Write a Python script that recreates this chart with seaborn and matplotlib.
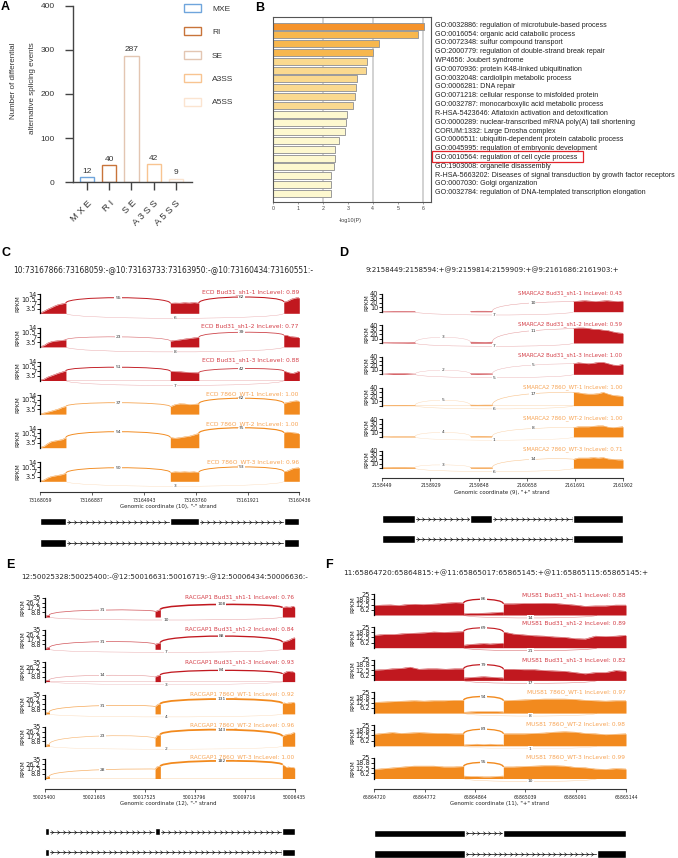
"""
Splicing figure: event counts, enrichment bars and four sashimi panels.
"""

import numpy as np
import matplotlib
matplotlib.use('Agg')
import matplotlib.pyplot as plt
from matplotlib.patches import Patch, PathPatch, Rectangle
from matplotlib.path import Path
from matplotlib.transforms import ScaledTranslation
import seaborn as sns

W, H = 678, 858
RED = '#c1181f'
ORANGE = '#f28a1e'
RED_TEXT = '#d43f48'
ORANGE_TEXT = '#f7a455'
ARIAL = ['Liberation Sans', 'DejaVu Sans']
NARROW = ['Liberation Sans Narrow', 'Liberation Sans', 'DejaVu Sans']
CHEVRON = Path([(-0.5, 0.8), (0.5, 0), (-0.5, -0.8)], [Path.MOVETO, Path.LINETO, Path.LINETO])

# Panel A
event_types = ['MXE', 'RI', 'SE', 'A3SS', 'A5SS']
event_ticks = ['M X E', 'R I', 'S E', 'A 3 S S', 'A 5 S S']
event_counts = [12, 40, 287, 42, 9]
event_colors = ['#6fa5dc', '#c8743a', '#e3c6b2', '#f8c491', '#fbe4d0']

# Panel B
terms = [
    'GO:0032886: regulation of microtubule-based process',
    'GO:0016054: organic acid catabolic process',
    'GO:0072348: sulfur compound transport',
    'GO:2000779: regulation of double-strand break repair',
    'WP4656: Joubert syndrome',
    'GO:0070936: protein K48-linked ubiquitination',
    'GO:0032048: cardiolipin metabolic process',
    'GO:0006281: DNA repair',
    'GO:0071218: cellular response to misfolded protein',
    'GO:0032787: monocarboxylic acid metabolic process',
    'R-HSA-5423646: Aflatoxin activation and detoxification',
    'GO:0000289: nuclear-transcribed mRNA poly(A) tail shortening',
    'CORUM:1332: Large Drosha complex',
    'GO:0006511: ubiquitin-dependent protein catabolic process',
    'GO:0045995: regulation of embryonic development',
    'GO:0010564: regulation of cell cycle process',
    'GO:1903008: organelle disassembly',
    'R-HSA-5663202: Diseases of signal transduction by growth factor receptors',
    'GO:0007030: Golgi organization',
    'GO:0032784: regulation of DNA-templated transcription elongation',
]
term_scores = [6.03, 5.79, 4.26, 4.02, 3.75, 3.73, 3.38, 3.31, 3.29, 3.22,
               2.98, 2.91, 2.90, 2.63, 2.49, 2.47, 2.46, 2.34, 2.32, 2.31]
term_colors = ['#f5932b', '#f8b84e', '#f7b74e', '#f7b74e'] + ['#fad98f'] * 6 + ['#fdf8cf'] * 10

samples = ['Bud31_sh1-1', 'Bud31_sh1-2', 'Bud31_sh1-3', '786O_WT-1', '786O_WT-2', '786O_WT-3']

# Panel C
c_levels = ['0.89', '0.77', '0.88', '1.00', '1.00', '0.96']
c_ticks = ['73168059', '73166887', '73164943', '73163760', '73161921', '73160436']
c_exon1 = [[0.3, 1.5, 3, 4.2, 5.5, 6.5, 7, 7.6], [0.2, 1, 2.8, 3.8, 4.3, 4.6, 4.8, 5.3],
           [0.2, 1, 2.5, 3.5, 4.5, 5.5, 6.3, 7.2], [0.3, 0.8, 1.5, 2.2, 3, 3.8, 5, 5.7],
           [0.3, 1, 3, 4.5, 5, 5.5, 6, 7.5], [0.3, 1, 2.5, 3.5, 4, 4.5, 5, 6]]
c_exon2 = [[7.4, 7.6, 7.5, 7.8, 7.6, 7.9, 7.5], [4.3, 4.8, 5.2, 5.8, 6.2, 6.7, 7],
           [6.8, 6.6, 6.5, 6.2, 5.9, 5.8, 5.7], [5.5, 7, 7.6, 7.5, 7, 7.2, 7.6],
           [7.5, 7, 7.4, 8, 8.5, 9.5, 10.6], [6.5, 7, 6.8, 7, 6.8, 7, 6.5]]
c_exon3 = [[8.4, 8.6, 9.5, 10.5, 11, 11.5, 11.4], [8.6, 8.5, 7.6, 7.4, 7.2, 6.8],
           [7, 6.2, 5.5, 5.3, 6, 7], [8, 8.5, 9, 9.5, 9.8, 9.5],
           [11, 11.5, 11.4, 11, 10.8, 10.3], [7.2, 7.5, 8.5, 9.5, 9.8, 10]]
c_up1_counts = [55, 23, 51, 37, 54, 50]
c_up1_mids = [11.5, 7.4, 9.8, 8.4, 11.8, 10]
c_up2_counts = [62, 39, 42, 62, 75, 53]
c_up2_mids = [12, 10.8, 8.8, 11.7, 14.7, 10.6]
c_skip_counts = [6, 8, 7, None, None, 3]
c_label_dy = [-1.7, -1.3, -1.3, -1.2, -4.3, -0.3]

# Panel D
d_levels = ['0.43', '0.59', '1.00', '1.00', '1.00', '0.71']
d_ticks = ['2158449', '2158929', '2159848', '2160658', '2161691', '2161902']
d_exon1 = [[0.3, 0.9, 0.9, 0.8], [0.4, 0.8, 1, 1.4], [0.4, 1.5, 1.4, 0.5],
           [0.4, 0.7, 0.8, 0.6], [0.5, 1, 1, 0.9], [1.5, 2, 2, 1.6]]
d_exon2 = [[1, 1.2, 1.2, 1], [2, 1.8, 1.5, 2], [1.2, 1.4, 1.2, 1],
           [1.2, 1, 1.2, 1.2], [1.4, 1.6, 1.5, 1.2], [1.4, 1.5, 1.5, 1.4]]
d_exon3 = [[23, 24, 25, 24, 23, 24, 25, 24, 23, 24],
           [33, 34, 34, 33, 31, 31, 29, 28, 25, 23, 22],
           [24, 26, 25, 24, 25, 27, 27, 24, 21, 20, 23],
           [30, 29, 27, 26, 26, 27, 30, 26, 23, 22, 21],
           [21, 23, 23, 23, 24, 25, 25, 22, 21, 22, 23],
           [20, 23, 23, 23, 24, 23, 24, 21, 20, 19, 19]]
d_up1_counts = [None, 3, 2, 5, 4, 3]
d_up1_mids = [0, 12.8, 9, 12, 10, 7.5]
d_up2_counts = [10, 11, 5, 17, 8, 14]
d_up2_mids = [20, 28, 21, 27, 19, 20]
d_skip_counts = [7, 7, 5, 6, 1, 6]
d_label_dy = [-1.3, -1, -1, -0.7, -0.7, -1]

# Panel E
e_levels = ['0.76', '0.84', '0.93', '0.92', '0.96', '1.00']
e_ticks = ['50025400', '50021605', '50017525', '50013796', '50009716', '50006435']
e_exon1 = [[0.5, 2, 3, 3.5], [0.5, 2, 3, 3], [0.5, 2, 2.5, 3],
           [0.5, 2, 3, 3.5], [0.5, 2, 3, 3.5], [0.5, 2, 3.5, 4]]
e_exon2 = [[10, 11, 12.5, 13.5], [9, 10, 11, 12], [8, 10, 11, 12],
           [13, 16, 18, 18], [14, 19, 20, 21], [17, 21, 22, 22]]
e_exon3 = [[17, 18, 18.5, 18, 18, 19.5, 18], [13, 14, 15, 16, 18, 20, 21],
           [14, 16, 18, 18.5, 18, 18, 16], [19, 20, 19, 20, 20, 21, 20],
           [18, 20, 21, 22, 22, 24, 25], [25, 23, 20, 21, 20, 20, 19]]
e_up1_counts = [31, 31, 14, 31, 23, 28]
e_up1_mids = [12.6, 13.8, 11.4, 15, 18.6, 16]
e_up2_counts = [108, 88, 84, 131, 143, 182]
e_up2_mids = [22.8, 24, 20.4, 27, 30, 32]
e_skip_counts = [10, 7, 3, 4, 2, None]
e_label_dy = [-0.3, -0.7, -0.3, -0.7, -1.3, -2.3]

# Panel F
f_levels = ['0.88', '0.89', '0.82', '0.97', '0.98', '0.99']
f_ticks = ['65864720', '65864772', '65864864', '65865039', '65865091', '65865144']
f_exon1 = [[11.5, 12, 12.2, 11.5, 12.6, 13, 12.6, 13, 13.6, 14.5, 15, 14.5],
           [15, 16, 16, 17, 17.5, 18, 19, 18.5, 19, 19.5],
           [12.5, 13, 14, 14.5, 16, 13.5, 14, 14, 13.5, 14, 14],
           [13, 13.5, 14, 14.5, 15, 14.5, 15, 15, 15.5, 15.5],
           [14, 15, 16, 15, 15.5, 16, 15.5, 15, 15, 14.5, 14.5],
           [11, 12, 13, 14, 15, 15, 15, 14, 14, 14.5]]
f_exon2 = [[1.5, 2, 2, 2.2, 2.5, 3, 3.5], [3, 4, 4.5, 5, 4.5, 5, 5.5],
           [3, 3.5, 4, 4.5, 4, 3.5, 3], [1, 1.5, 2, 2, 2, 2, 1.5],
           [1, 1.5, 2, 1.5, 2, 1.5, 1.5], [3, 2.5, 2.5, 2, 2, 2.5, 3]]
f_exon3 = [[13.5, 13.5, 14, 14, 14.2, 14, 13, 12, 10.5, 11, 11, 12, 12],
           [19, 16.5, 15.5, 14.5, 14, 13, 12.5, 11, 10.5, 14, 13.5, 14, 15],
           [13.5, 13.5, 13, 13, 12, 11.5, 11, 9.5, 8, 9.5, 9.5, 12, 11],
           [15, 15.5, 16, 16.5, 17, 17, 17, 16.5, 15.5, 15, 14.5, 15, 15],
           [14.5, 14.5, 14.5, 15, 15.5, 16.5, 17, 16.5, 15, 14.5, 13.5, 14, 14.5],
           [14, 14, 14.5, 15, 15.5, 15.5, 15, 13.5, 13, 11.5, 11, 12, 11.5]]
f_up1_counts = [86, 69, 79, 94, 83, 95]
f_up1_mids = [19, 24, 19, 20, 20, 19.4]
f_skip_counts = [14, 21, 17, 8, 1, 10]
f_label_dy = [1, -4, 0.7, -0.3, -1, -0.7]

sns.set_theme(style='white')
plt.rcParams['font.family'] = ['DejaVu Sans']
fig = plt.figure(figsize=(W / 100, H / 100), dpi=100)


def px_axes(x0, y_top, x1, y_bot):
    """Axes placed by picture pixels."""
    return fig.add_axes([x0 / W, 1 - y_bot / H, (x1 - x0) / W, (y_bot - y_top) / H])


def px_text(x, y, s, **kwargs):
    kwargs.setdefault('va', 'center')
    fig.text(x / W, 1 - y / H, s, **kwargs)


def draw_arc(ax, xl, xr, yl, yr, mid, color, count):
    """One junction arc, with its read count at the middle."""
    top = (mid - 0.125 * (yl + yr)) / 0.75
    path = Path([(xl, yl), (xl, top), (xr, top), (xr, yr)],
                [Path.MOVETO, Path.CURVE4, Path.CURVE4, Path.CURVE4])
    lw = min(0.25 + count * 0.008, 1.3)
    alpha = min(0.3 + count / 70, 1)
    ax.add_patch(PathPatch(path, fc='none', ec=color, lw=lw, alpha=alpha, clip_on=False))
    ax.text((xl + xr) / 2, mid, str(count), ha='center', va='center', fontsize=3.2,
            color='#333333', zorder=5, clip_on=False,
            bbox=dict(fc='white', ec='none', pad=0.6))


def draw_model(x0, x1, y, exons, step):
    """One transcript row: black exons joined by an arrowed intron line."""
    ax = px_axes(x0, y - 3.7, x1, y + 3.7)
    ax.set_xlim(0, 5)
    ax.set_ylim(0, 1)
    ax.axis('off')
    ax.plot([exons[0][1], exons[-1][0]], [0.5, 0.5], color='black', lw=0.5, zorder=1)
    for left, right in zip(exons[:-1], exons[1:]):
        xs = np.arange(left[1] + step / 2, right[0], step)
        ax.plot(xs, np.full(len(xs), 0.5), ls='none', marker=CHEVRON, ms=2.6, mew=0.4, mfc='none',
                mec='black', zorder=1)
    for start, end in exons:
        ax.barh(0.5, end - start, left=start, height=1, color='black', zorder=2)


def draw_panel(gene, chrom, strand, ticks, title, title_x, title_y, title_size, label_size, levels,
               coverage, spans, up_arcs, skip, ymax, ytick_vals, ytick_text, x0, x1, first_top,
               track_h, spacing, rpkm_x, label_dy, axis_y, model_rows, model_ys, step):
    """Six coverage tracks, the coordinate axis and two transcript rows."""
    px_text(title_x, title_y, title, fontsize=title_size, color='#222222')

    for i, sample in enumerate(samples):
        top = first_top + i * spacing
        color = RED if i < 3 else ORANGE
        ax = px_axes(x0, top, x1, top + track_h)
        ax.set_xlim(0, 5)
        ax.set_ylim(0, ymax)
        ax.patch.set_alpha(0)

        ax.plot([0, 5], [0.01 * ymax, 0.01 * ymax], color=color, lw=0.5, alpha=0.25)
        for (start, end), values in zip(spans, coverage):
            xs = np.linspace(start, end, len(values[i]))
            ax.fill_between(xs, values[i], 0, color=color, lw=0)
            sns.lineplot(x=xs, y=values[i], ax=ax, color=color, lw=0.3, legend=False,
                         estimator=None, sort=False)

        for left, right, counts, mids in up_arcs:
            if counts[i] is None:
                continue
            yl = coverage[left][i][-1]
            yr = coverage[right][i][0]
            draw_arc(ax, spans[left][1], spans[right][0], yl, yr, mids[i], color, counts[i])
        if skip[3][i] is not None:
            draw_arc(ax, skip[0], skip[1], 0, 0, skip[2], color, skip[3][i])

        ax.set_xticks([])
        ax.set_xlabel('')
        ax.set_ylabel('')
        ax.set_yticks(ytick_vals)
        ax.set_yticklabels(ytick_text)
        ax.tick_params(axis='y', left=True, length=2, width=0.6, pad=0.8, labelsize=4.8,
                       labelcolor='#222222', color='black')
        sns.despine(ax=ax, bottom=True)
        ax.spines['left'].set_linewidth(0.9)
        ax.spines['left'].set_color('black')

        px_text(rpkm_x, top + track_h / 2, 'RPKM', fontsize=4.2, rotation=90, ha='center',
                color='#222222')
        px_text(x1 - 0.5, top + label_dy[i], f'{gene} {sample} IncLevel: {levels[i]}',
                fontsize=label_size, ha='right', color=RED_TEXT if i < 3 else ORANGE_TEXT, zorder=6)

    axis_ax = px_axes(x0, axis_y - 2, x1, axis_y)
    axis_ax.set_xlim(0, 5)
    axis_ax.set_yticks([])
    axis_ax.set_xticks(range(6))
    axis_ax.set_xticklabels(ticks)
    axis_ax.patch.set_alpha(0)
    axis_ax.tick_params(axis='x', bottom=True, length=2, width=0.5, pad=2, labelsize=3.3,
                        labelcolor='#222222', color='#222222')
    sns.despine(ax=axis_ax, left=True)
    axis_ax.spines['bottom'].set_linewidth(0.8)
    axis_ax.spines['bottom'].set_color('#333333')
    px_text((x0 + x1) / 2 - 1, axis_y + 14.5, f'Genomic coordinate ({chrom}), "{strand}" strand',
            fontsize=3.9, ha='center', color='#222222')

    for exons, y in zip(model_rows, model_ys):
        draw_model(x0, x1, y, exons, step)


# A
ax_a = px_axes(72.7, 5.5, 192, 182.5)
sns.barplot(x=event_types, y=event_counts, hue=event_types, palette=event_colors, fill=False,
            linewidth=1.0, width=0.64, saturation=1, legend=False, ax=ax_a)
ax_a.set_xlim(-0.65, 4.73)
ax_a.set_ylim(0, 400)
ax_a.set_yticks([0, 100, 200, 300, 400])
ax_a.set_xticks(range(5))
ax_a.set_xticklabels(event_ticks, rotation=45, ha='right', rotation_mode='anchor',
                     family=ARIAL, fontsize=6.8, color='#333333')
for label in ax_a.get_yticklabels():
    label.set_family(ARIAL)
ax_a.tick_params(axis='y', left=True, length=6, width=1, pad=7, labelsize=6, labelcolor='#333333',
                 color='#444444')
ax_a.tick_params(axis='x', bottom=True, length=5.5, width=1, pad=6, color='#444444')
sns.despine(ax=ax_a)
for side in ['left', 'bottom']:
    ax_a.spines[side].set_linewidth(1.0)
    ax_a.spines[side].set_color('#444444')
for pos, count in enumerate(event_counts):
    ax_a.text(pos, count + 5, str(count), ha='center', va='bottom', fontsize=6, family=ARIAL,
              color='#333333')
px_text(13.5, 80.5, 'Number of differential', rotation=90, ha='center', fontsize=5.8, family=ARIAL,
        color='#333333')
px_text(32, 88, 'alternative splicing events', rotation=90, ha='center', fontsize=5.8, family=ARIAL,
        color='#333333')
legend_handles = [Patch(fc='none', ec=c, lw=1.0, label=t) for t, c in zip(event_types, event_colors)]
fig.legend(handles=legend_handles, loc='upper left', bbox_to_anchor=(184 / W, 1 - 4 / H),
           frameon=False, ncols=1, handlelength=2.04, handleheight=1.1, handletextpad=1.32,
           labelspacing=1.75, borderpad=0, borderaxespad=0,
           prop={'family': ARIAL, 'size': 6}, labelcolor='#333333')

# B
ax_b = px_axes(273, 16.7, 431, 202)
for grid_x in [2, 4, 6]:
    ax_b.axvline(grid_x, color='#cfcfcf', lw=1.3, zorder=0)
sns.barplot(x=term_scores, y=terms, hue=terms, palette=term_colors, orient='h', width=0.8,
            edgecolor='#9a9a9a', linewidth=0.7, saturation=1, legend=False, ax=ax_b, zorder=2)
ax_b.set_xlim(0, 6.33)
ax_b.set_ylim(19.98, -1.06)
ax_b.yaxis.tick_right()
ax_b.set_ylabel('')
ax_b.set_xticks(range(7))
ax_b.set_xticklabels([str(v) for v in range(7)], family=NARROW)
ax_b.tick_params(axis='x', bottom=True, length=1.5, width=0.4, pad=1.2, labelsize=3.8,
                 labelcolor='#444444', color='#555555')
ax_b.tick_params(axis='y', right=False, length=0, pad=3, labelsize=5.15, labelcolor='#222222')
term_shift = ScaledTranslation(0, 1.7 / 100, fig.dpi_scale_trans)
for label in ax_b.get_yticklabels():
    label.set_family(ARIAL)
    label.set_transform(label.get_transform() + term_shift)
for spine in ax_b.spines.values():
    spine.set_color('#555555')
    spine.set_linewidth(0.8)
px_text(350.5, 220.5, '-log10(P)', ha='center', fontsize=4, family=NARROW, color='#444444')
fig.add_artist(Rectangle((432.3 / W, 1 - 161.7 / H), 150.7 / W, 10.7 / H, fc='none', ec='#e2232a',
                         lw=0.9, transform=fig.transFigure))

# C
draw_panel('ECD', 10, '-', c_ticks, '10:73167866:73168059:-@10:73163733:73163950:-@10:73160434:73160551:-',
           13.3, 270, 5.45, 4.3, c_levels, [c_exon1, c_exon2, c_exon3], [(0, 0.495), (2.51, 3.06), (4.70, 5)],
           [(0, 1, c_up1_counts, c_up1_mids), (1, 2, c_up2_counts, c_up2_mids)],
           (0.495, 4.70, -3.7, c_skip_counts), 14, [3.5, 7, 10.5, 14], ['3.5', '7', '10.5', '14'],
           40.3, 299.3, 294.3, 19, 33.6, 18, c_label_dy, 492, [
               [(0, 0.495), (2.51, 3.06), (4.70, 5)], [(0, 0.495), (4.70, 5)]], [521.7, 543], 0.116)

# D
draw_panel('SMARCA2', 9, '+', d_ticks, '9:2158449:2158594:+@9:2159814:2159909:+@9:2161686:2161903:+',
           366, 270, 5.0, 4.0, d_levels, [d_exon1, d_exon2, d_exon3], [(0, 0.68), (1.83, 2.285), (3.97, 5)],
           [(0, 1, d_up1_counts, d_up1_mids), (1, 2, d_up2_counts, d_up2_mids)],
           (0.68, 3.97, -7.5, d_skip_counts), 40, [0, 10, 20, 30, 40], ['', '10', '20', '30', '40'],
           382.3, 623, 294, 17.7, 31.3, 366.7, d_label_dy, 477.7, [
               [(0, 0.68), (1.83, 2.285), (3.97, 5)], [(0, 0.68), (3.97, 5)]], [519, 539], 0.115)

# E
draw_panel('RACGAP1', 12, '-', e_ticks, '12:50025328:50025400:-@12:50016631:50016719:-@12:50006434:50006636:-',
           21, 576.7, 5.13, 4.15, e_levels, [e_exon1, e_exon2, e_exon3], [(0, 0.093), (2.207, 2.313), (4.753, 5)],
           [(0, 1, e_up1_counts, e_up1_mids), (1, 2, e_up2_counts, e_up2_mids)],
           (0.093, 4.753, -5.5, e_skip_counts), 35, [8.8, 17.5, 26.2, 35], ['8.8', '17.5', '26.2', '35'],
           44.7, 294.7, 597.7, 19.3, 32.3, 23.3, e_label_dy, 789, [
               [(0, 0.093), (2.207, 2.313), (4.753, 5)], [(0, 0.093), (4.753, 5)]], [831.7, 852.3], 0.115)

# F
draw_panel('MUS81', 11, '+', f_ticks, '11:65864720:65864815:+@11:65865017:65865145:+@11:65865115:65865145:+',
           343, 573.3, 5.2, 4.2, f_levels, [f_exon1, f_exon2, f_exon3], [(0, 1.775), (1.775, 2.563), (2.563, 5)],
           [(0, 2, f_up1_counts, f_up1_mids)],
           (1.775, 4.424, -3.6, f_skip_counts), 25, [6.2, 12.5, 18.8, 25], ['6.2', '12.5', '18.8', '25'],
           374.3, 626, 594.3, 20.7, 32.7, 352.7, f_label_dy, 789.3, [
               [(0, 1.795), (2.563, 5)], [(0, 1.795), (4.424, 5)]], [833.3, 854], 0.108)

for letter, x, y in [('A', 1, 7.5), ('B', 255, 8), ('C', 2, 252.5), ('D', 339, 252.5),
                     ('E', 6, 565.5), ('F', 325, 565.5)]:
    px_text(x, y, letter, fontsize=9, fontweight='bold', family=ARIAL, color='black')

fig.savefig('out.png', dpi=100)
